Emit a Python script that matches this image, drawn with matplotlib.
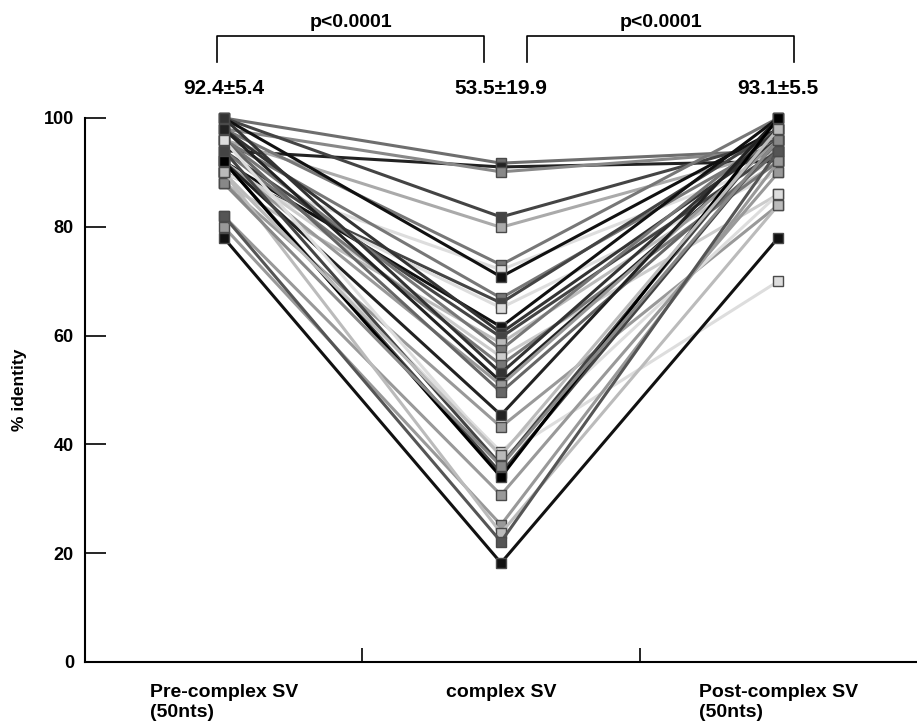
import matplotlib
matplotlib.use("Agg")
import matplotlib.pyplot as plt

plt.rcParams['font.family'] = ['Liberation Sans', 'DejaVu Sans']
plt.rcParams['font.weight'] = 'bold'

groups = ['Pre-complex SV\n(50nts)', 'complex SV', 'Post-complex SV\n(50nts)']
stats = ['92.4\u00b15.4', '53.5\u00b119.9', '93.1\u00b15.5']
p_labels = ['p<0.0001', 'p<0.0001']

# one value per sample for each region (% identity)
pre = [100, 94, 98, 100, 96, 98, 90, 100, 96, 90,
       90, 92, 98, 94, 88, 96, 92, 94, 100, 98,
       92, 96, 92, 88, 90, 96, 94, 92, 82, 80,
       90, 82, 78, 92, 88, 90]
mid = [91.7, 91.0, 90.1, 81.8, 79.9, 73.0, 72.1, 70.8, 66.9, 66.0,
       65.1, 61.6, 60.5, 59.7, 58.6, 57.4, 56.1, 54.6, 53.1, 51.5,
       50.9, 49.6, 45.4, 43.2, 38.6, 37.7, 36.2, 34.7, 30.7, 25.2,
       23.7, 22.1, 18.2, 34.0, 36.0, 38.0]
post = [94, 92, 94, 96, 94, 100, 92, 98, 96, 98,
        90, 100, 96, 94, 92, 98, 86, 92, 98, 96,
        96, 94, 100, 84, 86, 70, 98, 96, 90, 92,
        84, 94, 78, 100, 96, 98]
shades = ['#6e6e6e', '#222222', '#888888', '#444444', '#aaaaaa', '#777777', '#dddddd', '#111111', '#777777', '#444444',
          '#dddddd', '#111111', '#333333', '#444444', '#bbbbbb', '#777777', '#cccccc', '#777777', '#333333', '#222222',
          '#999999', '#666666', '#222222', '#999999', '#dddddd', '#dddddd', '#444444', '#444444', '#999999', '#999999',
          '#bbbbbb', '#555555', '#111111', '#000000', '#888888', '#bbbbbb']

fig = plt.figure(figsize=(9.17, 7.26), dpi=100)
ax = fig.add_axes([0.0927, 0.0882, 0.9073, 0.7493])

x = [0, 1, 2]
for a, b, c, col in zip(pre, mid, post, shades):
    ax.plot(x, [a, b, c], '-s', color=col, lw=2.2, ms=7, mec='#4a4a4a', mew=1,
            clip_on=False)

ax.set_xlim(-0.5, 2.5)
ax.set_ylim(0, 100)
ax.set_yticks([0, 20, 40, 60, 80, 100])
ax.tick_params(axis='y', direction='in', length=15, width=1.2, pad=8, labelsize=13)
ax.set_xticks(x)
ax.set_xticklabels(groups, fontsize=14, multialignment='left', va='top')
ax.tick_params(axis='x', which='major', length=0, pad=16)
ax.set_xticks([0.5, 1.5], minor=True)
ax.tick_params(axis='x', which='minor', direction='in', length=10, width=1.2)
for side in ['top', 'right']:
    ax.spines[side].set_visible(False)
for side in ['left', 'bottom']:
    ax.spines[side].set_linewidth(1.5)

ax.set_ylabel('% identity', fontsize=12.5, fontweight='bold', labelpad=12)

# mean +/- sd above each group
for i, s in enumerate(stats):
    ax.text(x[i], 105.5, s, ha='center', va='center', fontsize=15)

# significance brackets
brackets = [(-0.025, 0.94), (1.094, 2.058)]
for (x0, x1), lab in zip(brackets, p_labels):
    ax.plot([x0, x0, x1, x1], [110.3, 115.1, 115.1, 110.3], color='black', lw=1.2,
            clip_on=False)
    ax.text((x0 + x1) / 2, 117.6, lab, ha='center', va='center', fontsize=14)

fig.savefig('out.png', dpi=100)
